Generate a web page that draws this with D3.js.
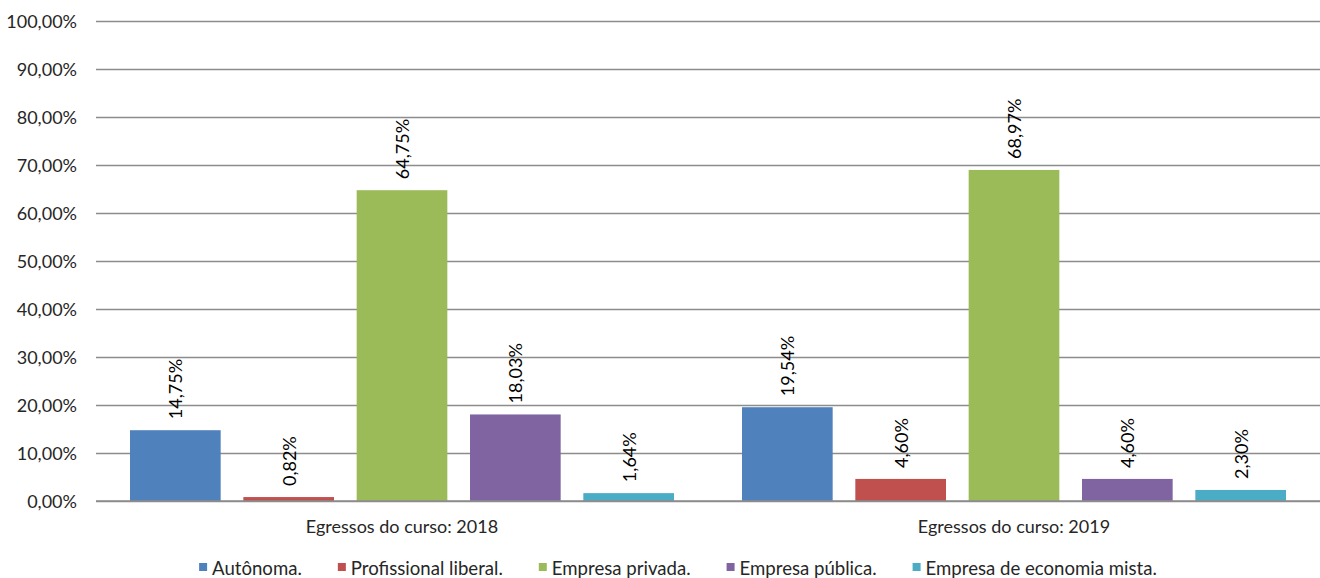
<!DOCTYPE html>
<html><head><meta charset="utf-8">
<script src="https://cdn.jsdelivr.net/npm/d3@7"></script>
<style>body{margin:0;background:#fff}svg{display:block}text{font-family:Lato,"Open Sans",sans-serif}</style>
</head><body><svg id="c" width="1320" height="578"></svg>
<script>
const groups = ["Egressos do curso: 2018", "Egressos do curso: 2019"];
const seriesNames = ["Autônoma.", "Profissional liberal.", "Empresa privada.", "Empresa pública.", "Empresa de economia mista."];
const colors = ["#4F81BD", "#C0504D", "#9BBB59", "#8064A2", "#4BACC6"];
const values2018 = [14.75, 0.82, 64.75, 18.03, 1.64];
const values2019 = [19.54, 4.60, 68.97, 4.60, 2.30];
const yTicks = [0, 10, 20, 30, 40, 50, 60, 70, 80, 90, 100];

const valuesByGroup = [values2018, values2019];
const fmt = v => v.toFixed(2).replace(".", ",") + "%";
const svg = d3.select("#c");
const mLeft = 96, mRight = 1320, mTop = 21, mBottom = 501;
const FONT = "Lato,'Open Sans',sans-serif";
const x0 = d3.scaleBand().domain(groups).range([mLeft, mRight]).paddingInner(0).paddingOuter(0);
const x1 = d3.scaleBand().domain(seriesNames).range([0, x0.bandwidth()]).paddingInner(0.2).paddingOuter(0.3);
const y = d3.scaleLinear().domain([0, 100]).range([mBottom, mTop]);

// gridlines
const yAxis = d3.axisLeft(y).tickValues(yTicks).tickFormat(fmt).tickSize(-(mRight - mLeft)).tickPadding(19);
const ga = svg.append("g").attr("transform", `translate(${mLeft},0)`).call(yAxis);
ga.select(".domain").remove();
ga.selectAll(".tick line").attr("stroke", "#8c8c8c").attr("stroke-width", 1.6);
ga.selectAll(".tick text").attr("fill", "#262626").style("font-size", "18px").style("font-family", FONT).attr("dy", "0.36em");

// bars
const gg = svg.append("g").selectAll("g").data(groups).join("g")
  .attr("transform", d => `translate(${x0(d)},0)`);
gg.each(function(g, gi) {
  const data = seriesNames.map((s, i) => ({s, i, v: valuesByGroup[gi][i]}));
  const sel = d3.select(this);
  sel.selectAll("rect").data(data).join("rect")
    .attr("x", d => x1(d.s)).attr("width", x1.bandwidth())
    .attr("y", d => y(d.v)).attr("height", d => y(0) - y(d.v))
    .attr("fill", d => colors[d.i]);
  sel.selectAll("text.lbl").data(data).join("text").attr("class", "lbl")
    .attr("transform", d => `translate(${x1(d.s) + x1.bandwidth() / 2 + 7},${y(d.v) - 11}) rotate(-90)`)
    .attr("text-anchor", "start").style("font-size", "18px").attr("fill", "#000")
    .text(d => fmt(d.v));
});

// x axis line
svg.append("line").attr("x1", mLeft).attr("x2", mRight).attr("y1", mBottom).attr("y2", mBottom)
  .attr("stroke", "#8c8c8c").attr("stroke-width", 1.6);
const xa = d3.axisBottom(x0).tickSize(0).tickPadding(19);
const gx = svg.append("g").attr("transform", `translate(0,${mBottom})`).call(xa);
gx.select(".domain").remove();
gx.selectAll(".tick text").attr("fill", "#262626").style("font-size", "18px").style("font-family", FONT);

// legend
const lg = svg.append("g");
const items = lg.selectAll("g").data(seriesNames).join("g");
items.append("rect").attr("width", 8).attr("height", 8).attr("y", -12).attr("fill", (d, i) => colors[i]);
items.append("text").attr("x", 13).attr("y", 0).style("font-size", "18.6px").attr("fill", "#262626").text(d => d);
let cx = 0; const gap = 36;
items.each(function() {
  const w = this.getBBox().width;
  d3.select(this).attr("transform", `translate(${cx},575)`);
  cx += w + gap;
});
const total = cx - gap;
lg.attr("transform", `translate(${678 - total / 2},0)`);
</script></body></html>
